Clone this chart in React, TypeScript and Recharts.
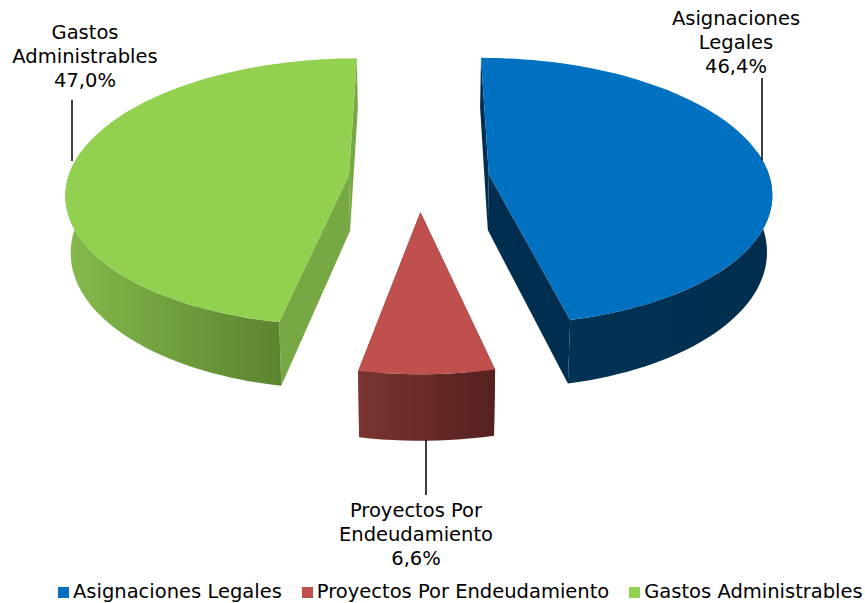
import React from 'react';
import { PieChart, Pie, Legend } from 'recharts';

const categories = ['Asignaciones Legales', 'Proyectos Por Endeudamiento', 'Gastos Administrables'];
const shares = [46.4, 6.6, 47.0];
const shareLabels = ['46,4%', '6,6%', '47,0%'];
const labelLines = [
  ['Asignaciones', 'Legales'],
  ['Proyectos Por', 'Endeudamiento'],
  ['Gastos', 'Administrables'],
];
const topColors = ['#0070c0', '#c0504d', '#92d050'];
const sideColors = ['#002e50', '#6e2f2d', '#77a843'];
const wallFrom = ['#003355', '#7a3432', '#86ba4c'];
const wallTo = ['#002d4e', '#55211f', '#5b8430'];

// label text centre and leader line (x, y1, y2)
const labelBoxes = [
  { x: 736, y: 25, lx: 762, y1: 78, y2: 160 },
  { x: 416, y: 517, lx: 426, y1: 440, y2: 495 },
  { x: 85, y: 39, lx: 72, y1: 100, y2: 161 },
];

const FONT = '"DejaVu Sans", Verdana, sans-serif';
const EXPLODE = 70.5;
const DEPTH = 56;
const SQUASH = 0.47;
const PERSPECTIVE = 0.00045;
const SHRINK = 0.985;

const data = categories.map((name, i) => ({
  name,
  value: shares[i],
  fill: topColors[i],
  idx: i,
}));

function project(cx: number, cy: number, wx: number, wz: number, bottom: boolean) {
  const s = 1 / (1 - PERSPECTIVE * wz);
  const y = cy + wz * SQUASH * s + (bottom ? DEPTH * s : 0);
  const x = cx + wx * s * (bottom ? SHRINK : 1);
  return [x, y];
}

function Slice3D(props: any) {
  const { cx, cy, outerRadius, startAngle, endAngle, payload } = props;
  const i = payload.idx;
  const a0 = 90 - startAngle;
  const a1 = 90 - endAngle;
  const mid = ((a0 + a1) / 2) * (Math.PI / 180);
  const ox = EXPLODE * Math.sin(mid);
  const oz = -EXPLODE * Math.cos(mid);

  const rim = (from: number, to: number, bottom: boolean) => {
    const pts: number[][] = [];
    const steps = Math.max(4, Math.round(Math.abs(to - from) / 2));
    for (let k = 0; k <= steps; k++) {
      const a = (from + ((to - from) * k) / steps) * (Math.PI / 180);
      pts.push(project(cx, cy, ox + outerRadius * Math.sin(a), oz - outerRadius * Math.cos(a), bottom));
    }
    return pts;
  };
  const toPath = (pts: number[][]) =>
    'M' + pts.map((p) => `${p[0].toFixed(1)},${p[1].toFixed(1)}`).join('L') + 'Z';

  const topRim = rim(a0, a1, false);
  const botRim = rim(a0, a1, true);
  const apexTop = project(cx, cy, ox, oz, false);
  const apexBot = project(cx, cy, ox, oz, true);
  const last = topRim.length - 1;
  const gradId = `wall-${i}`;

  // only the front of the rim shows, the back is hidden by the top face
  const wallStart = Math.max(a0, 80);
  const wallEnd = Math.min(a1, 280);
  const wallTop = rim(wallStart, wallEnd, false);
  const wallBot = rim(wallStart, wallEnd, true);

  return (
    <g>
      <defs>
        <linearGradient id={gradId} x1="0" x2="1" y1="0" y2="0">
          <stop offset="0%" stopColor={wallFrom[i]} />
          <stop offset="100%" stopColor={wallTo[i]} />
        </linearGradient>
      </defs>
      <path d={toPath([apexTop, topRim[0], botRim[0], apexBot])} fill={sideColors[i]} />
      <path d={toPath([apexTop, topRim[last], botRim[last], apexBot])} fill={sideColors[i]} />
      <path d={toPath([...wallTop, ...[...wallBot].reverse()])} fill={`url(#${gradId})`} />
      <path d={toPath([apexTop, ...topRim])} fill={topColors[i]} />
    </g>
  );
}

function SliceLabel(props: any) {
  const i = props.payload?.idx ?? props.index;
  const box = labelBoxes[i];
  const lines = [...labelLines[i], shareLabels[i]];
  return (
    <g>
      <line x1={box.lx} x2={box.lx} y1={box.y1} y2={box.y2} stroke="#000" strokeWidth={1.5} />
      <text x={box.x} y={box.y} textAnchor="middle" fontFamily={FONT} fontSize={19.5} fill="#000">
        {lines.map((line, k) => (
          <tspan key={k} x={box.x} dy={k === 0 ? 0 : 24}>
            {line}
          </tspan>
        ))}
      </text>
    </g>
  );
}

export default function App() {
  return (
    <div style={{ position: 'absolute', left: 0, top: 0, width: 865, height: 603, background: '#fff' }}>
      <PieChart width={865} height={603} margin={{ top: 0, right: 0, bottom: 0, left: 0 }}>
        <Pie
          data={data}
          dataKey="value"
          nameKey="name"
          cx={419}
          cy={178}
          outerRadius={281}
          startAngle={90}
          endAngle={-270}
          stroke="none"
          isAnimationActive={false}
          shape={Slice3D}
          label={SliceLabel}
          labelLine={false}
        />
        <Legend
          iconType="square"
          iconSize={11}
          itemSorter={null}
          formatter={(value: string) => <span style={{ color: '#000', marginRight: 10 }}>{value}</span>}
          wrapperStyle={{ position: 'absolute', left: 58, bottom: 0, width: 807, fontFamily: FONT, fontSize: 19.5, lineHeight: '22px', textAlign: 'left', whiteSpace: 'nowrap' }}
        />
      </PieChart>
    </div>
  );
}
